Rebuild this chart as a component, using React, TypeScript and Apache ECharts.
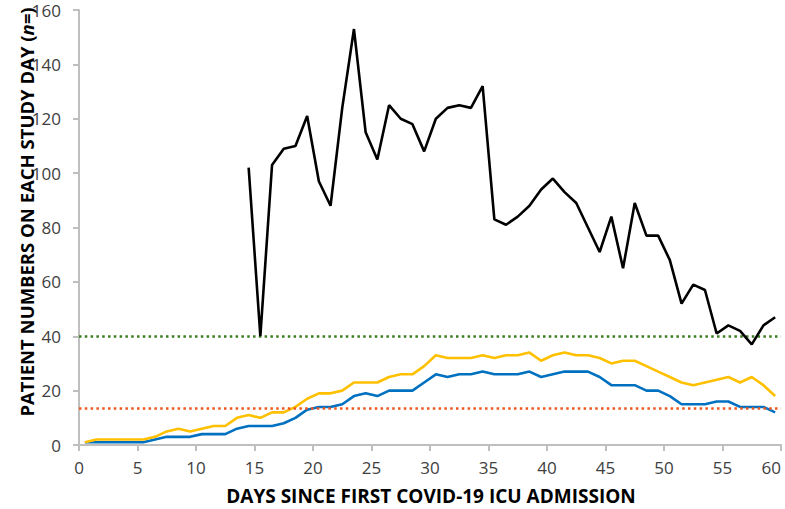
import React, { useEffect, useRef } from "react";
import * as echarts from "echarts";

const days: number[] = Array.from({ length: 60 }, (_, i) => i + 1);

const totalPatients: (number | null)[] = [
  null, null, null, null, null, null, null, null, null, null,
  null, null, null, null, 102, 40, 103, 109, 110, 121,
  97, 88, 124, 153, 115, 105, 125, 120, 118, 108,
  120, 124, 125, 124, 132, 83, 81, 84, 88, 94,
  98, 93, 89, 80, 71, 84, 65, 89, 77, 77,
  68, 52, 59, 57, 41, 44, 42, 37, 44, 47,
];

const yellowSeries: number[] = [
  1, 2, 2, 2, 2, 2, 3, 5, 6, 5,
  6, 7, 7, 10, 11, 10, 12, 12, 14, 17,
  19, 19, 20, 23, 23, 23, 25, 26, 26, 29,
  33, 32, 32, 32, 33, 32, 33, 33, 34, 31,
  33, 34, 33, 33, 32, 30, 31, 31, 29, 27,
  25, 23, 22, 23, 24, 25, 23, 25, 22, 18,
];

const blueSeries: number[] = [
  1, 1, 1, 1, 1, 1, 2, 3, 3, 3,
  4, 4, 4, 6, 7, 7, 7, 8, 10, 13,
  14, 14, 15, 18, 19, 18, 20, 20, 20, 23,
  26, 25, 26, 26, 27, 26, 26, 26, 27, 25,
  26, 27, 27, 27, 25, 22, 22, 22, 20, 20,
  18, 15, 15, 15, 16, 16, 14, 14, 14, 12,
];

const greenThreshold = 40;
const orangeThreshold = 13.4;

const xTitle = "DAYS SINCE FIRST COVID-19 ICU ADMISSION";
const yTitle = "PATIENT NUMBERS ON EACH STUDY DAY ({i|n=})";

const FONT = "'Open Sans', 'Noto Sans', sans-serif";

function toPairs(vals: (number | null)[]): [number, number][] {
  const out: [number, number][] = [];
  vals.forEach((v, i) => {
    if (v !== null && v !== undefined) out.push([days[i] - 0.5, v]);
  });
  return out;
}

export default function App() {
  const ref = useRef<HTMLDivElement>(null);
  useEffect(() => {
    document.body.style.margin = "0";
    document.body.style.overflow = "hidden";
    if (!ref.current) return;
    const chart = echarts.init(ref.current, null, { renderer: "svg", width: 785, height: 509 });
    chart.setOption({
      animation: false,
      backgroundColor: "#ffffff",
      grid: { left: 79, right: 4, top: 10, bottom: 64, containLabel: false, outerBoundsMode: "none" },
      xAxis: {
        type: "value",
        min: 0,
        max: 60,
        interval: 5,
        axisLine: { show: true, lineStyle: { color: "#bfbfbf", width: 2 } },
        axisTick: { show: true, length: 6, lineStyle: { color: "#bfbfbf", width: 2 } },
        splitLine: { show: false },
        axisLabel: {
          color: "#404040",
          fontSize: 17,
          fontFamily: FONT,
          margin: 14,
          alignMaxLabel: "right",
        },
      },
      yAxis: {
        type: "value",
        min: 0,
        max: 160,
        interval: 20,
        axisLine: { show: true, lineStyle: { color: "#bfbfbf", width: 2 } },
        axisTick: { show: true, length: 6, lineStyle: { color: "#bfbfbf", width: 2 } },
        splitLine: { show: false },
        axisLabel: { color: "#404040", fontSize: 17, lineHeight: 15, fontFamily: FONT, margin: 18 },
      },
      series: [
        {
          type: "line",
          name: "blue",
          data: toPairs(blueSeries),
          showSymbol: false,
          symbol: "none",
          lineStyle: { color: "#0070C0", width: 2.6 },
          z: 3,
        },
        {
          type: "line",
          name: "yellow",
          data: toPairs(yellowSeries),
          showSymbol: false,
          symbol: "none",
          lineStyle: { color: "#FFC000", width: 2.6 },
          z: 4,
          markLine: {
            silent: true,
            symbol: "none",
            label: { show: false },
            data: [
              { yAxis: greenThreshold, lineStyle: { color: "#3a7d1e", width: 2.6, type: [2.5, 3.3] } },
              { yAxis: orangeThreshold, lineStyle: { color: "#f0571e", width: 2.6, type: [2.5, 3.3] } },
            ],
          },
        },
        {
          type: "line",
          name: "total",
          data: toPairs(totalPatients),
          showSymbol: false,
          symbol: "none",
          lineStyle: { color: "#000000", width: 2.6 },
          z: 5,
        },
      ],
      graphic: [
        {
          type: "text",
          x: 431,
          y: 496,
          style: {
            text: xTitle,
            fontFamily: FONT,
            fontWeight: "bold",
            fontSize: 19,
            fill: "#000000",
            align: "center",
            verticalAlign: "middle",
            textAlign: "center",
            textVerticalAlign: "middle",
          },
        },
        {
          type: "text",
          x: 26,
          y: 212,
          rotation: Math.PI / 2,
          style: {
            text: yTitle,
            fontFamily: FONT,
            fontWeight: "bold",
            fontSize: 18.5,
            fill: "#000000",
            align: "center",
            verticalAlign: "middle",
            textAlign: "center",
            textVerticalAlign: "middle",
            rich: {
              i: { fontFamily: FONT, fontWeight: "bold", fontStyle: "italic", fontSize: 18.5, fill: "#000000" },
            },
          },
        },
      ],
    });
    return () => chart.dispose();
  }, []);
  return <div ref={ref} style={{ width: 785, height: 509 }} />;
}
